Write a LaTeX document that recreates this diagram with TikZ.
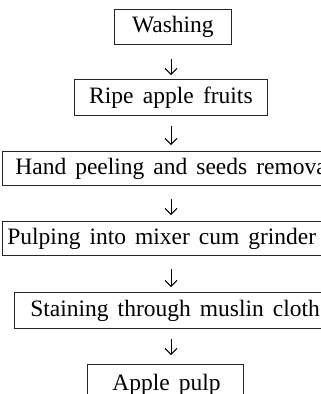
\documentclass[tikz,border=0pt]{standalone}
\usepackage{fontspec}
\setmainfont{Liberation Serif}
\usetikzlibrary{arrows.meta}
\newcommand\boxfnt{\fontsize{23.5}{27}\selectfont}
\newcommand\wsp{\spaceskip=9pt plus 1pt\relax}
\tikzset{
  stepbox/.style={draw=black!85, line width=0.8pt, inner ysep=0pt, anchor=north west,
    font=\boxfnt},
  flow/.style={line width=0.9pt, -{Straight Barb[length=6pt,width=12pt,line width=0.9pt]}},
}
\begin{document}
\begin{tikzpicture}[x=1pt,y=1pt]
\useasboundingbox (0,0) rectangle (321,-394);
\clip (0,0) rectangle (321,-394);
\coordinate (ax) at (171,0);
\node[stepbox, inner xsep=0pt, text width=117pt, align=center, minimum height=35pt] (b1) at (114,-9) {\wsp Washing};
\node[stepbox, inner xsep=0pt, text width=193pt, align=center, minimum height=36pt] (b2) at (74,-79) {\wsp Ripe apple fruits};
\node[stepbox, inner xsep=13pt, text width=394pt, align=left, minimum height=34pt] (b3) at (2,-151) {\wsp Hand peeling and seeds removal};
\node[stepbox, inner xsep=5pt, text width=410pt, align=left, minimum height=34pt] (b4) at (2,-221) {\wsp Pulping into mixer cum grinder};
\node[stepbox, inner xsep=16pt, text width=388pt, align=left, minimum height=36pt] (b5) at (14,-292) {\wsp Staining through muslin cloth};
\node[stepbox, inner xsep=25pt, text width=106pt, align=left, minimum height=40pt] (b6) at (87,-364) {\wsp\mbox{Apple pulp}};
\draw[flow, shorten <=14pt, shorten >=4pt] (b1.south -| ax) -- (b2.north -| ax);
\draw[flow, shorten <=10pt, shorten >=6pt] (b2.south -| ax) -- (b3.north -| ax);
\draw[flow, shorten <=13pt, shorten >=6pt] (b3.south -| ax) -- (b4.north -| ax);
\draw[flow, shorten <=13pt, shorten >=5pt] (b4.south -| ax) -- (b5.north -| ax);
\draw[flow, shorten <=10pt, shorten >=9pt] (b5.south -| ax) -- (b6.north -| ax);
\end{tikzpicture}
\end{document}
